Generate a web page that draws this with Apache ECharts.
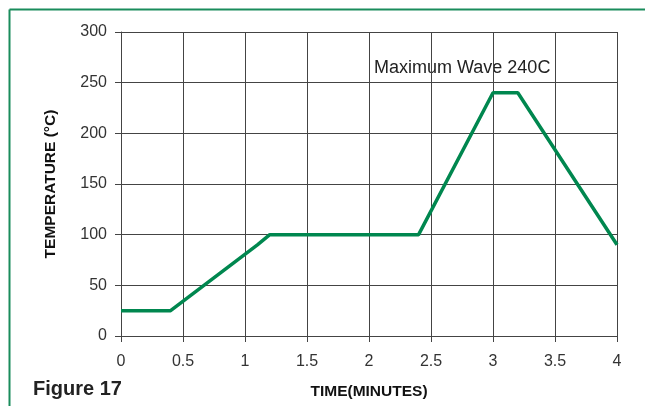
<!DOCTYPE html>
<html><head><meta charset="utf-8">
<script src="https://cdn.jsdelivr.net/npm/echarts@6/dist/echarts.min.js"></script>
<style>html,body{margin:0;padding:0;background:#fff}#c{width:645px;height:406px}</style>
</head><body><div id="c"></div>
<script>
var timeMinutes = [0, 0.4, 1.1, 1.2, 2.4, 3.0, 3.2, 4.0];
var temperatureC = [25, 25, 90, 100, 100, 240, 240, 90];
var xTicks = [0, 0.5, 1, 1.5, 2, 2.5, 3, 3.5, 4];
var yTicks = [0, 50, 100, 150, 200, 250, 300];
var annotation = 'Maximum Wave 240C';
var figureLabel = 'Figure 17';

var chart = echarts.init(document.getElementById('c'));
var pts = timeMinutes.map(function (t, i) { return [t, temperatureC[i]]; });
chart.setOption({
  animation: false,
  grid: { left: 121, right: 28, top: 32, bottom: 70 },
  xAxis: {
    type: 'value', min: xTicks[0], max: xTicks[xTicks.length - 1], interval: 0.5,
    name: 'TIME(MINUTES)', nameLocation: 'middle', nameGap: 48,
    nameTextStyle: { fontFamily: 'Liberation Sans', fontWeight: 'bold', fontSize: 15.5, color: '#111' },
    axisLine: { show: true, lineStyle: { color: '#444', width: 1 } },
    axisTick: { show: true, length: 6, lineStyle: { color: '#444' } },
    axisLabel: { fontFamily: 'Liberation Sans', fontSize: 16, color: '#333', margin: 18 },
    splitLine: { show: true, lineStyle: { color: '#444', width: 1 } }
  },
  yAxis: {
    type: 'value', min: yTicks[0], max: yTicks[yTicks.length - 1], interval: 50,
    name: 'TEMPERATURE (°C)', nameLocation: 'middle', nameGap: 62, nameRotate: 90,
    nameTextStyle: { fontFamily: 'Liberation Sans', fontWeight: 'bold', fontSize: 15.5, color: '#111' },
    axisLine: { show: true, lineStyle: { color: '#444', width: 1 } },
    axisTick: { show: true, length: 6, lineStyle: { color: '#444' } },
    axisLabel: { fontFamily: 'Liberation Sans', fontSize: 16, color: '#333', margin: 14 },
    splitLine: { show: true, lineStyle: { color: '#444', width: 1 } }
  },
  graphic: [
    { type: 'line', shape: { x1: 9.5, y1: 9.5, x2: 645, y2: 9.5 }, style: { stroke: '#1a8c5c', lineWidth: 2 } },
    { type: 'line', shape: { x1: 9.5, y1: 9.5, x2: 9.5, y2: 406 }, style: { stroke: '#1a8c5c', lineWidth: 2 } },
    { type: 'text', left: 33, top: 379, style: { text: figureLabel, font: 'bold 20px "Liberation Sans"', fill: '#222' } },
    { type: 'text', left: 374, top: 59, style: { text: annotation, font: '18px "Liberation Sans"', fill: '#222' } }
  ],
  series: [{
    type: 'line', data: pts, symbol: 'none',
    lineStyle: { color: '#00874f', width: 3.5 }
  }]
});
</script></body></html>
